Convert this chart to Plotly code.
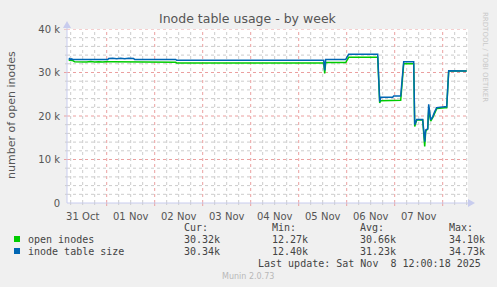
import plotly.graph_objects as go
import pandas as pd

# ---- data ----
times = [
    "2025-10-31 05:00", "2025-10-31 05:30", "2025-10-31 06:00", "2025-10-31 06:30",
    "2025-10-31 07:00", "2025-10-31 08:00", "2025-10-31 10:00", "2025-10-31 12:00",
    "2025-10-31 14:00", "2025-10-31 16:00", "2025-10-31 18:00", "2025-10-31 20:00",
    "2025-10-31 22:00", "2025-11-01 00:30", "2025-11-01 01:00", "2025-11-01 03:00",
    "2025-11-01 05:00", "2025-11-01 07:00", "2025-11-01 09:00", "2025-11-01 11:00",
    "2025-11-01 13:30", "2025-11-01 14:00", "2025-11-02 10:30", "2025-11-02 11:00",
    "2025-11-05 12:30", "2025-11-05 13:00", "2025-11-05 13:30", "2025-11-05 23:30",
    "2025-11-06 01:00", "2025-11-06 15:30", "2025-11-06 16:30", "2025-11-06 17:00",
    "2025-11-06 23:00", "2025-11-06 23:30", "2025-11-07 03:00", "2025-11-07 04:30",
    "2025-11-07 09:30", "2025-11-07 10:00", "2025-11-07 11:00", "2025-11-07 14:00",
    "2025-11-07 15:00", "2025-11-07 15:30", "2025-11-07 16:30", "2025-11-07 17:00",
    "2025-11-07 18:00", "2025-11-07 19:00", "2025-11-07 20:00", "2025-11-07 21:00",
    "2025-11-08 01:00", "2025-11-08 02:00", "2025-11-08 03:00", "2025-11-08 12:00",
]
table_size = [
    33000, 33200, 33000, 33150, 33000, 33000, 33000, 33000,
    33000, 33000, 33000, 33000, 33000, 33000, 33200, 33300,
    33150, 33300, 33150, 33300, 33200, 33000, 33000, 32800,
    32800, 30500, 33000, 33000, 34200, 34200, 23300, 24300,
    24300, 24600, 24600, 32500, 32500, 18000, 19200, 19200,
    14100, 16800, 17000, 22700, 19100, 19800, 21000, 21900,
    22100, 22100, 30400, 30340,
]
open_inodes = [
    32800, 32800, 32800, 32750, 32750, 32450, 32400, 32500,
    32400, 32550, 32400, 32500, 32400, 32500, 32450, 32450,
    32450, 32450, 32450, 32450, 32450, 32350, 32350, 32200,
    32200, 29800, 32300, 32300, 33500, 33500, 23000, 23500,
    23500, 23600, 23600, 32000, 32000, 17600, 19100, 19100,
    13000, 16500, 17000, 21500, 18800, 19600, 20800, 21700,
    21900, 21900, 30350, 30320,
]
series_names = ["open inodes", "inode table size"]
cur_vals = ["30.32k", "30.34k"]
min_vals = ["12.27k", "12.40k"]
avg_vals = ["30.66k", "31.23k"]
max_vals = ["34.10k", "34.73k"]
y_ticks = [0, 10000, 20000, 30000, 40000]
y_labels = ["0", "10 k", "20 k", "30 k", "40 k"]
y_minor = [v for v in range(2000, 40000, 2000) if v % 10000 != 0]
day_labels = ["31 Oct", "01 Nov", "02 Nov", "03 Nov", "04 Nov", "05 Nov", "06 Nov", "07 Nov"]
day_noons = pd.date_range("2025-10-31 12:00", periods=8, freq="D")
midnights = pd.date_range("2025-11-01 00:00", periods=8, freq="D")
six_hours = [t for t in pd.date_range("2025-10-31 06:00", "2025-11-08 12:00", freq="6h")
             if t.hour != 0]

x_start = "2025-10-31 04:09"
x_end = "2025-11-08 12:39"

GREEN = "#00CC00"
BLUE = "#0066B3"
W, H = 497, 287
L, R, T, B = 67, 468, 29, 203
MINOR_C = "#CCCCCC"
MAJOR_C = "#EBA0A0"


def px(x):
    return (x - L) / (R - L)


def py(y):
    return (B - y) / (B - T)


fig = go.Figure()
fig.add_trace(go.Scatter(x=times, y=open_inodes, mode="lines", name=series_names[0],
                         line=dict(color=GREEN, width=1.5)))
fig.add_trace(go.Scatter(x=times, y=table_size, mode="lines", name=series_names[1],
                         line=dict(color=BLUE, width=1.5)))

shapes = []
DOT = "dot"
for t in six_hours:
    shapes.append(dict(type="line", xref="x", yref="paper", x0=t, x1=t, y0=0, y1=1,
                       line=dict(color=MINOR_C, width=1, dash=DOT), layer="below"))
    shapes.append(dict(type="line", xref="x", yref="paper", x0=t, x1=t, y0=0, y1=-2 / 174,
                       line=dict(color=MINOR_C, width=1), layer="below"))
for v in y_minor:
    shapes.append(dict(type="line", xref="paper", yref="y", x0=0, x1=1, y0=v, y1=v,
                       line=dict(color=MINOR_C, width=1, dash=DOT), layer="below"))
    shapes.append(dict(type="line", xref="paper", yref="y", x0=-2 / 401, x1=0, y0=v, y1=v,
                       line=dict(color=MINOR_C, width=1), layer="below"))
for m in midnights:
    shapes.append(dict(type="line", xref="x", yref="paper", x0=m, x1=m, y0=0, y1=1,
                       line=dict(color=MAJOR_C, width=1, dash=DOT), layer="below"))
    shapes.append(dict(type="line", xref="x", yref="paper", x0=m, x1=m, y0=0, y1=-3 / 174,
                       line=dict(color=MAJOR_C, width=1), layer="below"))
for v in y_ticks[1:]:
    shapes.append(dict(type="line", xref="paper", yref="y", x0=0, x1=1, y0=v, y1=v,
                       line=dict(color=MAJOR_C, width=1, dash=DOT), layer="below"))
    shapes.append(dict(type="line", xref="paper", yref="y", x0=-3 / 401, x1=0, y0=v, y1=v,
                       line=dict(color=MAJOR_C, width=1), layer="below"))
# axis lines with arrows
AX = "#C8CCEE"
shapes.append(dict(type="line", xref="paper", yref="paper", x0=0, x1=px(472), y0=0, y1=0,
                   line=dict(color=AX, width=1)))
shapes.append(dict(type="line", xref="paper", yref="paper", x0=0, x1=0, y0=0, y1=py(23),
                   line=dict(color=AX, width=1)))
shapes.append(dict(type="path", xref="paper", yref="paper",
                   path=f"M {px(468)} {py(199)} L {px(475)} {py(203)} L {px(468)} {py(207)} Z",
                   fillcolor=AX, line=dict(width=0)))
shapes.append(dict(type="path", xref="paper", yref="paper",
                   path=f"M {px(63)} {py(28)} L {px(67)} {py(21)} L {px(71)} {py(28)} Z",
                   fillcolor=AX, line=dict(width=0)))
# legend squares
shapes.append(dict(type="rect", xref="paper", yref="paper", x0=px(14), x1=px(20),
                   y0=py(242), y1=py(236), fillcolor=GREEN, line=dict(width=0)))
shapes.append(dict(type="rect", xref="paper", yref="paper", x0=px(14), x1=px(20),
                   y0=py(254), y1=py(248), fillcolor=BLUE, line=dict(width=0)))

MONO = "DejaVu Sans Mono"
TXT = "#444444"
ann = []


def text(x, y, s, size=10, color=TXT, family=MONO, xanchor="left", angle=0):
    ann.append(dict(x=px(x), y=py(y), xref="paper", yref="paper", text=s, showarrow=False,
                    xanchor=xanchor, yanchor="middle", textangle=angle,
                    font=dict(family=family, size=size, color=color)))


cols = [182, 270, 358, 447]
headers = ["Cur:", "Min:", "Avg:", "Max:"]
for c, h in zip(cols, headers):
    text(c, 227, h)
rows_y = [239, 251]
for i in range(2):
    text(26, rows_y[i], series_names[i])
    for c, v in zip(cols, [cur_vals[i], min_vals[i], avg_vals[i], max_vals[i]]):
        text(c, rows_y[i], v)
text(483, 263, "Last update: Sat Nov  8 12:00:18 2025", xanchor="right")
text(248, 276, "Munin 2.0.73", size=8, color="#B8B8B8", family="DejaVu Sans", xanchor="center")
text(485, 57, "RRDTOOL / TOBI OETIKER", size=7, color="#C8C8C8", family="DejaVu Sans",
     xanchor="center", angle=90)
text(12, 115, "number of open inodes", size=11, color="#555555", family="DejaVu Sans",
     xanchor="center", angle=-90)
text(248, 19, "Inode table usage - by week", size=12.5, color="#555555", family="DejaVu Sans",
     xanchor="center")

fig.update_layout(
    width=W, height=H, autosize=False,
    margin=dict(l=L, r=W - R, t=T, b=H - B, pad=0),
    paper_bgcolor="#F0F0F0", plot_bgcolor="#FFFFFF",
    showlegend=False, shapes=shapes, annotations=ann,
    font=dict(family="DejaVu Sans", size=10, color="#555555"),
)
fig.update_xaxes(
    type="date", range=[x_start, x_end],
    tickmode="array", tickvals=day_noons, ticktext=day_labels,
    showgrid=False, ticks="outside", ticklen=4, tickcolor="rgba(0,0,0,0)",
    zeroline=False, showline=False,
    tickfont=dict(family="DejaVu Sans", size=10, color="#555555"),
)
fig.update_yaxes(
    range=[0, 40000], tickmode="array", tickvals=y_ticks, ticktext=y_labels,
    showgrid=False, ticks="outside", ticklen=4, tickcolor="rgba(0,0,0,0)",
    zeroline=False, showline=False,
    tickfont=dict(family="DejaVu Sans", size=10, color="#555555"),
)

fig.write_html("out.html")
